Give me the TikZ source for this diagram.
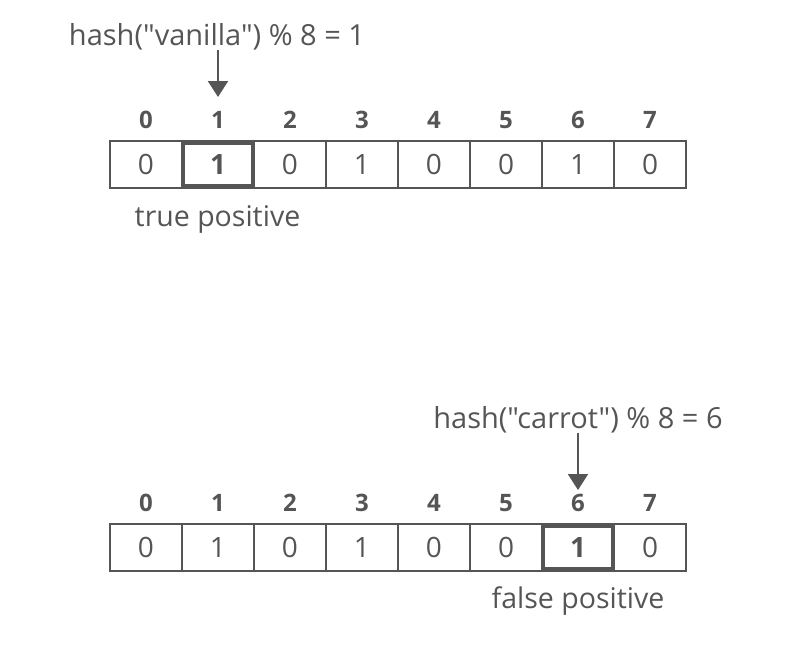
\documentclass[tikz,border=0pt]{standalone}
\usepackage{fontspec}
\setmainfont{Open Sans}[Ligatures=TeXOff]
\usetikzlibrary{arrows.meta}
\definecolor{ink}{HTML}{555555}
\tikzset{
  cell/.style={draw=ink, line width=2pt, minimum width=72pt, minimum height=47pt, inner sep=0pt, text=ink, font=\fontsize{28}{30}\selectfont},
  hicell/.style={cell, line width=4pt, minimum width=70pt, minimum height=43pt, font=\fontsize{28}{30}\selectfont\bfseries},
  idx/.style={anchor=base, inner sep=0pt, text=ink, font=\fontsize{24}{26}\selectfont\bfseries},
  lbl/.style={anchor=base, inner sep=0pt, text=ink, font=\fontsize{28.5}{30}\selectfont},
  ttl/.style={anchor=base, inner sep=0pt, text=ink, font=\fontsize{29}{31}\selectfont},
  arr/.style={draw=ink, line width=2pt, -{Triangle[width=20pt,length=16pt]}}
}
\begin{document}
\begin{tikzpicture}[x=1pt,y=-1pt]
\useasboundingbox (0,0) rectangle (806,657);
% top array
\foreach \v [count=\i from 0] in {0,1,0,1,0,0,1,0} {
  \node[idx] (ti\i) at ({146+72*\i},128) {\i};
  \ifnum\i=1
    \node[cell] (tc\i) at ({146+72*\i},164.5) {};
  \else
    \node[cell] (tc\i) at ({146+72*\i},164.5) {\v};
  \fi
}
\node[hicell] (thi) at (218,164.5) {1};
\node[ttl] (ttitle) at (217,45) {hash("vanilla") \% 8 = 1};
\coordinate (ta1) at (218,50);
\coordinate (ta2) at (218,97);
\draw[arr] (ta1) -- (ta2);
\node[lbl] (tnote) at (217.5,226) {true positive};
% bottom array
\foreach \v [count=\i from 0] in {0,1,0,1,0,0,1,0} {
  \node[idx] (bi\i) at ({146+72*\i},511) {\i};
  \ifnum\i=6
    \node[cell] (bc\i) at ({146+72*\i},547.5) {};
  \else
    \node[cell] (bc\i) at ({146+72*\i},547.5) {\v};
  \fi
}
\node[hicell] (bhi) at (578,547.5) {1};
\node[ttl] (btitle) at (578,428) {hash("carrot") \% 8 = 6};
\coordinate (ba1) at (578,433);
\coordinate (ba2) at (578,490);
\draw[arr] (ba1) -- (ba2);
\node[lbl] (bnote) at (578,608) {false positive};
\end{tikzpicture}
\end{document}
